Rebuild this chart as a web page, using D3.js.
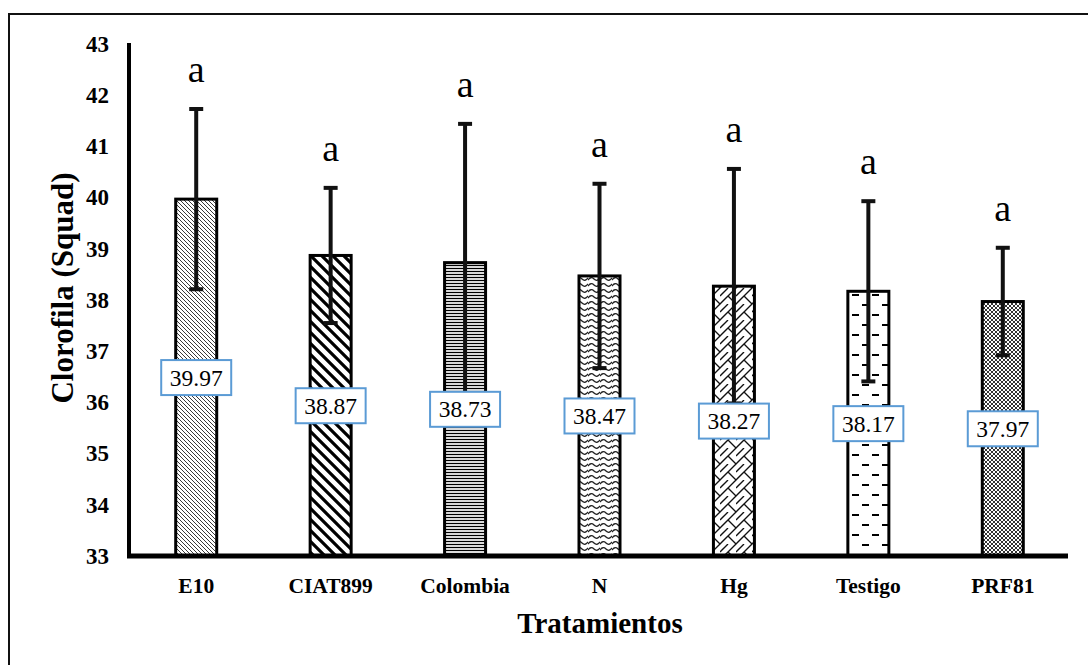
<!DOCTYPE html>
<html>
<head>
<meta charset="utf-8">
<script src="https://cdn.jsdelivr.net/npm/d3@7"></script>
<style>
  body { margin: 0; background: #fff; }
  svg { display: block; font-family: "Liberation Serif", "Times New Roman", serif; }
</style>
</head>
<body>
<svg id="chart" width="1088" height="665"></svg>
<script>
const categories = ['E10', 'CIAT899', 'Colombia', 'N', 'Hg', 'Testigo', 'PRF81']
const means = [39.97, 38.87, 38.73, 38.47, 38.27, 38.17, 37.97]
const errors = [1.76, 1.32, 2.71, 1.80, 2.29, 1.76, 1.05]
const letters = ['a', 'a', 'a', 'a', 'a', 'a', 'a']
const yTicks = [33, 34, 35, 36, 37, 38, 39, 40, 41, 42, 43]

const data = categories.map((c, i) => ({ cat: c, mean: means[i], err: errors[i], letter: letters[i], idx: i }))

const svg = d3.select('#chart')

// outer frame (right and bottom edges fall outside the picture)
svg.append('rect')
    .attr('x', 9).attr('y', 14)
    .attr('width', 1200).attr('height', 800)
    .attr('fill', 'none')
    .attr('stroke', '#111')
    .attr('stroke-width', 2)

// fill patterns, one per treatment
const defs = svg.append('defs')
const pat = (id, w, h, draw) => {
    const p = defs.append('pattern')
        .attr('id', id)
        .attr('patternUnits', 'userSpaceOnUse')
        .attr('width', w).attr('height', h)
    p.append('rect').attr('width', w).attr('height', h).attr('fill', '#fff')
    draw(p)
}
// light downward diagonal
pat('p0', 4, 4, p => {
    p.append('path').attr('d', 'M-1,-1L5,5M-1,3L1,5M3,-1L5,1').attr('stroke', '#222').attr('stroke-width', 0.9)
})
// wide downward diagonal
pat('p1', 11, 11, p => {
    p.append('path').attr('d', 'M-3,-3L14,14M-3,8L3,14M8,-3L14,3').attr('stroke', '#000').attr('stroke-width', 3.2)
})
// narrow horizontal
pat('p2', 6, 3, p => {
    p.append('path').attr('d', 'M0,1.5H6').attr('stroke', '#000').attr('stroke-width', 1.3)
})
// wave
pat('p3', 12, 6, p => {
    p.append('path').attr('d', 'M0,4Q3,0 6,3T12,2').attr('fill', 'none').attr('stroke', '#222').attr('stroke-width', 1.3)
})
// diagonal brick
pat('p4', 16, 16, p => {
    p.append('path')
        .attr('d', 'M-2,18L18,-2M-2,2L2,-2M8,8L16,16M0,0L0,0')
        .attr('fill', 'none').attr('stroke', '#111').attr('stroke-width', 1.4)
    p.append('path')
        .attr('d', 'M0,8L8,0M0,8L-8,0')
        .attr('fill', 'none').attr('stroke', '#111').attr('stroke-width', 1.4)
})
// dashed horizontal
pat('p5', 20, 20, p => {
    p.append('path').attr('d', 'M2,5H9M12,15H19').attr('stroke', '#000').attr('stroke-width', 2)
})
// small checker
pat('p6', 4, 4, p => {
    p.append('rect').attr('width', 4).attr('height', 4).attr('fill', '#fff')
    p.append('path').attr('d', 'M0,0L4,4M4,0L0,4').attr('stroke', '#333').attr('stroke-width', 1)
})

const x = d3.scaleBand()
    .domain(categories)
    .range([129, 1070])
    .paddingInner(0.695)
    .paddingOuter(0.3475)

const y = d3.scaleLinear()
    .domain([33, 43])
    .range([556, 44])

// bars
svg.append('g').selectAll('rect')
    .data(data)
    .join('rect')
    .attr('x', d => x(d.cat))
    .attr('y', d => y(d.mean))
    .attr('width', x.bandwidth())
    .attr('height', d => y(33) - y(d.mean))
    .attr('fill', d => `url(#p${d.idx})`)
    .attr('stroke', '#000')
    .attr('stroke-width', 3)

// error bars
const eb = svg.append('g').attr('stroke', '#111').attr('stroke-width', 4)
eb.selectAll('.stem')
    .data(data)
    .join('line')
    .attr('x1', d => x(d.cat) + x.bandwidth() / 2)
    .attr('x2', d => x(d.cat) + x.bandwidth() / 2)
    .attr('y1', d => y(d.mean + d.err))
    .attr('y2', d => y(d.mean - d.err))
eb.selectAll('.cap')
    .data(data.flatMap(d => [
        { cat: d.cat, v: d.mean + d.err },
        { cat: d.cat, v: d.mean - d.err }
    ]))
    .join('line')
    .attr('x1', d => x(d.cat) + x.bandwidth() / 2 - 7)
    .attr('x2', d => x(d.cat) + x.bandwidth() / 2 + 7)
    .attr('y1', d => y(d.v))
    .attr('y2', d => y(d.v))

// axes
const yAxis = svg.append('g')
    .attr('transform', 'translate(129,0)')
    .call(d3.axisLeft(y).tickValues(yTicks).tickSize(0).tickPadding(20))
yAxis.attr('font-family', null)
yAxis.select('.domain').attr('stroke', '#000').attr('stroke-width', 4)
    .attr('d', `M0,${y(43) - 1}V${y(33) + 2}`)
yAxis.selectAll('text')
    .attr('font-size', 23).attr('font-weight', 'bold').attr('fill', '#000')

const xAxis = svg.append('g')
    .attr('transform', `translate(0,${y(33)})`)
    .call(d3.axisBottom(x).tickSize(0).tickPadding(22))
xAxis.attr('font-family', null)
xAxis.select('.domain').attr('stroke', '#000').attr('stroke-width', 5)
    .attr('d', 'M127,0H1068')
xAxis.selectAll('text')
    .attr('font-size', 21.5).attr('font-weight', 'bold').attr('fill', '#000')

// value labels in boxes at mid bar
const lab = svg.append('g').selectAll('g')
    .data(data)
    .join('g')
    .attr('transform', d => `translate(${x(d.cat) + x.bandwidth() / 2},${(y(d.mean) + y(33)) / 2})`)
lab.append('rect')
    .attr('x', -35).attr('y', -17.5)
    .attr('width', 70).attr('height', 35)
    .attr('fill', '#fff')
    .attr('stroke', '#5b9bd5')
    .attr('stroke-width', 2)
lab.append('text')
    .attr('text-anchor', 'middle')
    .attr('dy', '0.34em')
    .attr('font-size', 23.5)
    .text(d => d.mean.toFixed(2))

// significance letters
svg.append('g').selectAll('text')
    .data(data)
    .join('text')
    .attr('x', d => x(d.cat) + x.bandwidth() / 2)
    .attr('y', d => y(d.mean + d.err) - 27)
    .attr('text-anchor', 'middle')
    .attr('font-size', 38)
    .text(d => d.letter)

// axis titles
svg.append('text')
    .attr('x', 600).attr('y', 633)
    .attr('text-anchor', 'middle')
    .attr('font-size', 29).attr('font-weight', 'bold')
    .text('Tratamientos')

svg.append('text')
    .attr('transform', 'translate(73,288) rotate(-90)')
    .attr('text-anchor', 'middle')
    .attr('font-size', 31).attr('font-weight', 'bold')
    .text('Clorofila (Squad)')
</script>
</body>
</html>
